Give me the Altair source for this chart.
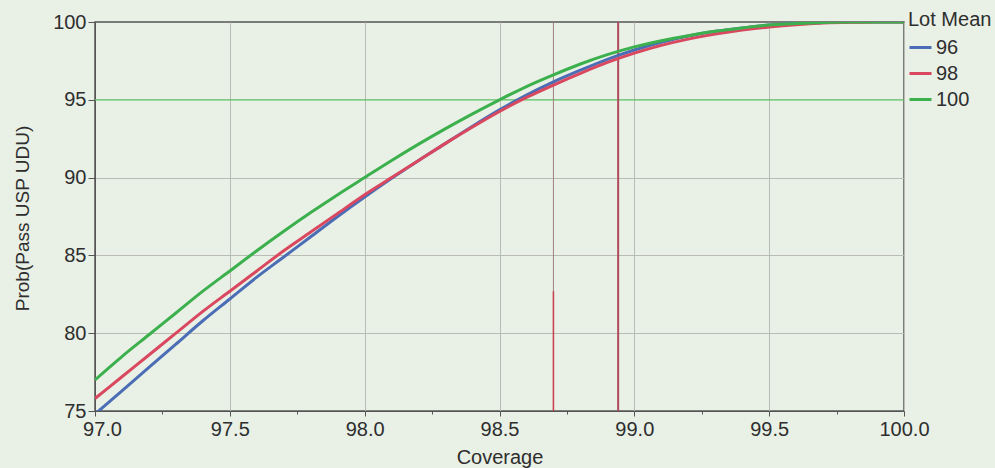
import altair as alt
import pandas as pd

coverage = [97.0, 97.1, 97.2, 97.3, 97.4, 97.5, 97.6, 97.7, 97.8, 97.9,
            98.0, 98.1, 98.2, 98.3, 98.4, 98.5, 98.6, 98.7, 98.8, 98.9,
            99.0, 99.1, 99.2, 99.3, 99.4, 99.5, 99.6, 99.7, 99.8, 99.9, 100.0]
lot_96 = [74.8, 76.3, 77.8, 79.3, 80.8, 82.2, 83.6, 84.9, 86.2, 87.5,
          88.75, 89.95, 91.1, 92.2, 93.3, 94.35, 95.3, 96.15, 96.9, 97.6,
          98.2, 98.7, 99.1, 99.4, 99.62, 99.8, 99.9, 99.97, 100.0, 100.0, 100.0]
lot_98 = [75.8, 77.2, 78.6, 80.0, 81.4, 82.7, 84.0, 85.3, 86.5, 87.7,
          88.9, 90.0, 91.1, 92.2, 93.25, 94.25, 95.15, 95.95, 96.7, 97.4,
          98.0, 98.5, 98.9, 99.22, 99.48, 99.68, 99.83, 99.93, 99.98, 100.0, 100.0]
lot_100 = [77.0, 78.5, 79.9, 81.3, 82.7, 84.0, 85.3, 86.55, 87.75, 88.9,
           90.0, 91.1, 92.15, 93.15, 94.1, 95.0, 95.85, 96.6, 97.3, 97.9,
           98.4, 98.8, 99.12, 99.4, 99.62, 99.8, 99.9, 99.97, 100.0, 100.0, 100.0]
series_names = ["96", "98", "100"]
series_colors = ["#4a6db5", "#d9485f", "#3cb04d"]

x_ticks = [97.0, 97.25, 97.5, 97.75, 98.0, 98.25, 98.5, 98.75, 99.0, 99.25,
           99.5, 99.75, 100.0]
y_ticks = [75, 77.5, 80, 82.5, 85, 87.5, 90, 92.5, 95, 97.5, 100]

ref_y = [95]
ref_x_full = [98.7]
ref_x_seg = [98.7]
ref_x_seg_low = [75]
ref_x_seg_high = [82.7]
ref_x_thick = [98.94]

rows = []
for name, vals in zip(series_names, [lot_96, lot_98, lot_100]):
    for c, v in zip(coverage, vals):
        rows.append({"Coverage": c, "Prob": v, "Lot Mean": name})
df = pd.DataFrame(rows)

FONT = "Liberation Sans"
TXT = "#2e2e2e"

x_scale = alt.Scale(domain=[97, 100], nice=False, zero=False)
y_scale = alt.Scale(domain=[75, 100], nice=False, zero=False)

x_axis = alt.Axis(
    values=x_ticks, format=".1f", title="Coverage",
    labelExpr="round(datum.value*4) % 2 === 0 ? datum.label : ''",
    labelFlush=False,
    labelOffset={"condition": {"test": "datum.value < 97.1", "value": 7}, "value": 0},
    tickSize={"condition": {"test": "round(datum.value*4) % 2 === 0", "value": 5}, "value": 3},
    gridOpacity={"condition": {"test": "round(datum.value*4) % 2 === 0", "value": 1}, "value": 0},
    labelFontSize=20, titleFontSize=20, labelFont=FONT, titleFont=FONT,
    labelColor=TXT, titleColor=TXT, titleFontWeight="normal",
    labelPadding=3, titleBaseline="middle", titleY=46,
    domainColor="#555555", tickColor="#555555", gridColor="#b9bbb4",
)
y_axis = alt.Axis(
    values=y_ticks, format="d", title="Prob(Pass USP UDU)",
    labelExpr="round(datum.value*2) % 5 === 0 ? datum.label : ''",
    tickSize={"condition": {"test": "round(datum.value*2) % 5 === 0", "value": 7}, "value": 3},
    gridOpacity={"condition": {"test": "round(datum.value*2) % 5 === 0 && datum.value < 94", "value": 1}, "value": 0},
    labelFontSize=20, titleFontSize=19, labelFont=FONT, titleFont=FONT,
    labelColor=TXT, titleColor=TXT, titleFontWeight="normal",
    labelPadding=2, titleBaseline="middle", titleX=-73, titleY=196,
    domainColor="#555555", tickColor="#555555", gridColor="#b9bbb4",
)

lines = alt.Chart(df).mark_line(strokeWidth=3, interpolate="monotone", clip=True).encode(
    x=alt.X("Coverage:Q", scale=x_scale, axis=x_axis),
    y=alt.Y("Prob:Q", scale=y_scale, axis=y_axis),
    color=alt.Color("Lot Mean:N", sort=series_names,
                    scale=alt.Scale(domain=series_names, range=series_colors),
                    legend=alt.Legend(
                        title="Lot Mean", orient="none", legendX=813, legendY=-12,
                        symbolType="stroke", symbolSize=484, symbolStrokeWidth=3,
                        labelFontSize=20, titleFontSize=20, labelFont=FONT, titleFont=FONT,
                        labelColor=TXT, titleColor=TXT, titleFontWeight="normal",
                        rowPadding=3, labelOffset=3, titlePadding=5)),
)

hline = alt.Chart(pd.DataFrame({"y": ref_y})).mark_rule(color="#5abf62", strokeWidth=1.3).encode(
    y=alt.Y("y:Q", scale=y_scale))
vfull = alt.Chart(pd.DataFrame({"x": ref_x_full})).mark_rule(color="#a08080", strokeWidth=1).encode(
    x=alt.X("x:Q", scale=x_scale))
vseg = alt.Chart(pd.DataFrame({"x": ref_x_seg, "y1": ref_x_seg_low, "y2": ref_x_seg_high})).mark_rule(
    color="#c8404f", strokeWidth=1.5).encode(
    x=alt.X("x:Q", scale=x_scale), y=alt.Y("y1:Q", scale=y_scale), y2="y2:Q")
vthick = alt.Chart(pd.DataFrame({"x": ref_x_thick})).mark_rule(color="#b04a5c", strokeWidth=2).encode(
    x=alt.X("x:Q", scale=x_scale))

chart = alt.layer(hline, vfull, vseg, vthick, lines).properties(
    width=809, height=389,
    background="#e9f0e6",
    padding={"left": 95, "top": 22, "right": 91, "bottom": 57},
    autosize=alt.AutoSizeParams(type="none"),
).configure_view(stroke="#555555", strokeWidth=1.5, fill="#e9f0e6")

chart.save("out.html", embed_options={"renderer": "svg", "actions": False})
